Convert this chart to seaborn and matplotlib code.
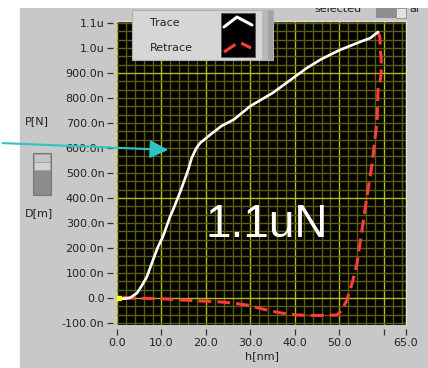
import numpy as np
import pandas as pd
import seaborn as sns
import matplotlib
matplotlib.use("Agg")
import matplotlib.pyplot as plt
from matplotlib.patches import Rectangle, FancyArrowPatch
from matplotlib.lines import Line2D

# ---------------- data (h in nm, P in nN) ----------------
trace_h = [0.4, 1.5, 2.9, 4.5, 5.6, 6.7, 8.1, 9.2, 10.3, 11.9, 12.6, 14.2, 14.8, 16.0,
           16.8, 17.8, 18.7, 20.9, 23.5, 26.3, 30.0, 35.0, 39.0, 42.7, 46.0, 50.1,
           54.6, 57.0, 58.4, 58.7]
trace_p = [0, -3, 0, 20, 50, 84, 152, 204, 244, 324, 352, 424, 453, 512,
           560, 598, 620, 652, 688, 714, 768, 820, 872, 920, 956, 992,
           1024, 1040, 1060, 1064]
retrace_h = [58.7, 59.1, 59.5, 59.3, 58.7, 58.5, 57.4, 56.2, 55.1, 54.0, 52.9, 51.7,
             50.6, 49.5, 45.0, 40.5, 36.9, 33.0, 29.2, 26.0, 22.0, 18.7, 11.2, 3.6, 0.7]
retrace_p = [1064, 1044, 924, 880, 832, 712, 540, 404, 272, 140, 60, -8,
             -48, -68, -70, -68, -60, -45, -28, -20, -14, -12, -4, 0, 4]

y_ticks = [-100, 0, 100, 200, 300, 400, 500, 600, 700, 800, 900, 1000, 1100]
y_tick_labels = ["-100.0n", "0.0", "100.0n", "200.0n", "300.0n", "400.0n", "500.0n",
                 "600.0n", "700.0n", "800.0n", "900.0n", "1.0u", "1.1u"]
x_ticks = [0, 10, 20, 30, 40, 50, 60, 65]
x_tick_labels = ["0.0", "10.0", "20.0", "30.0", "40.0", "50.0", "", "65.0"]

series_names = ["Trace", "Retrace"]
x_label = "h[nm]"
annotation = "1.1uN"

# ---------------- figure ----------------
W, H = 428, 368
sns.set_theme(style="dark")
plt.rcParams["font.family"] = ["DejaVu Sans"]

fig = plt.figure(figsize=(W / 100, H / 100), dpi=100, facecolor="white")


def fx(x):
    return x / W


def fy(y):
    return 1 - y / H


def frect(x0, y0, x1, y1, **kw):
    r = Rectangle((fx(x0), fy(y1)), fx(x1) - fx(x0), fy(y0) - fy(y1),
                  transform=fig.transFigure, **kw)
    fig.add_artist(r)
    return r


PANEL = "#c8c8c8"
frect(20, 8, W, H, color=PANEL, zorder=0)

ax = fig.add_axes([fx(117), fy(325), (406 - 117) / W, (325 - 21) / H])
ax.set_facecolor("black")
ax.set_xlim(0, 65)
ax.set_ylim(-108, 1108)

# grid
MAJ = "#bcbc00"
MIN = "#5e5e08"
for v in np.arange(0, 65.01, 2):
    ax.axvline(v, color=MAJ if (v % 10 == 0) else MIN, lw=1, zorder=0.5)
ax.axvline(65, color=MIN, lw=1, zorder=0.5)
for k in range(-3, 34):
    v = k * 100 / 3
    ax.axhline(v, color=MAJ if k in (0, 12, 27) else MIN, lw=1, zorder=0.5)

df_t = pd.DataFrame({"h": trace_h, "P": trace_p})
df_r = pd.DataFrame({"h": retrace_h, "P": retrace_p})
sns.lineplot(data=df_r, x="h", y="P", sort=False, estimator=None, color="#ff3b3b",
             lw=2.2, ax=ax, zorder=3)
ax.lines[-1].set_dashes([4.2, 2.0])
sns.lineplot(data=df_t, x="h", y="P", sort=False, estimator=None, color="white",
             lw=1.9, ax=ax, zorder=4)
ax.plot([trace_h[0]], [trace_p[0]], marker="s", ms=3.5, color="#ffff00", zorder=5)

ax.set_xticks(x_ticks)
ax.set_xticklabels(x_tick_labels)
ax.set_yticks(y_ticks)
ax.set_yticklabels(y_tick_labels)
ax.tick_params(axis="both", direction="out", length=4.5, width=0.9, color="#333333",
               labelsize=8, labelcolor="#222222", pad=1.5, bottom=True, left=True)
ax.set_xlabel(x_label, fontsize=8, color="#222222", labelpad=2.5)
ax.set_ylabel("")
for s in ["left", "bottom"]:
    ax.spines[s].set_position(("outward", 3))
    ax.spines[s].set_color("none")
for s in ["top", "right"]:
    ax.spines[s].set_color("#dcdcdc")
    ax.spines[s].set_linewidth(1)
ax.grid(False)

ax.text(0.517, 0.33, annotation, transform=ax.transAxes, ha="center", va="center",
        color="white", fontsize=33, family="Liberation Sans", zorder=6)

# ---------------- left widget ----------------
fig.text(fx(37), fy(121), "P[N]", ha="center", va="center", fontsize=8, color="#222222")
fig.text(fx(39), fy(213), "D[m]", ha="center", va="center", fontsize=8, color="#222222")
frect(33, 153, 51, 195, facecolor="#8c8c8c", edgecolor="#777777", lw=0.8, zorder=1)
frect(34, 154, 50, 162, facecolor="#c4c4c4", edgecolor="#a0a0a0", lw=0.6, zorder=2)
frect(34, 162, 50, 170, facecolor="#d2d2d2", edgecolor="#a0a0a0", lw=0.6, zorder=2)

# ---------------- legend ----------------
frect(132, 10, 273, 60, facecolor="#d6d6d6", edgecolor="#b0b0b0", lw=0.8, zorder=3)
frect(262, 10, 273, 60, facecolor="#b8b8b8", edgecolor="none", zorder=3.1)
frect(268, 10, 273, 60, facecolor="#a4a4a4", edgecolor="none", zorder=3.2)
fig.text(fx(150), fy(23), series_names[0], ha="left", va="center", fontsize=8,
         color="#222222", zorder=4)
fig.text(fx(150), fy(48), series_names[1], ha="left", va="center", fontsize=8,
         color="#222222", zorder=4)
frect(221, 13, 255, 57, facecolor="black", edgecolor="#555555", lw=0.6, zorder=4)
fig.add_artist(Line2D([fx(224), fx(237), fx(252)], [fy(27), fy(17), fy(25)],
                      transform=fig.transFigure, color="white", lw=2.2, zorder=5))
fig.add_artist(Line2D([fx(224), fx(239), fx(251)], [fy(52), fy(42), fy(48)],
                      transform=fig.transFigure, color="#ff3b3b", lw=2.2,
                      dashes=[4.5, 2.2], zorder=5))

# ---------------- top right control ----------------
fig.text(fx(338), fy(9), "selected", ha="center", va="center", fontsize=8,
         color="#222222", zorder=1)
frect(376, 8, 396, 18, facecolor="#8e8e8e", edgecolor="none", zorder=1)
frect(396, 8, 406, 18, facecolor="#e2e2e2", edgecolor="#888888", lw=0.6, zorder=1)
fig.text(fx(409), fy(9), "al", ha="left", va="center", fontsize=8, color="#222222",
         zorder=1)
frect(0, 0, W, 8, facecolor="white", edgecolor="none", zorder=2)

# ---------------- cyan arrow ----------------
arrow = FancyArrowPatch((fx(0), fy(143)), (fx(171), fy(150)), transform=fig.transFigure,
                        arrowstyle="-|>,head_length=0.85,head_width=0.42",
                        mutation_scale=13, color="#2ec4c6", lw=1.5, zorder=10)
fig.add_artist(arrow)

fig.savefig("out.png", dpi=100, facecolor=fig.get_facecolor())
